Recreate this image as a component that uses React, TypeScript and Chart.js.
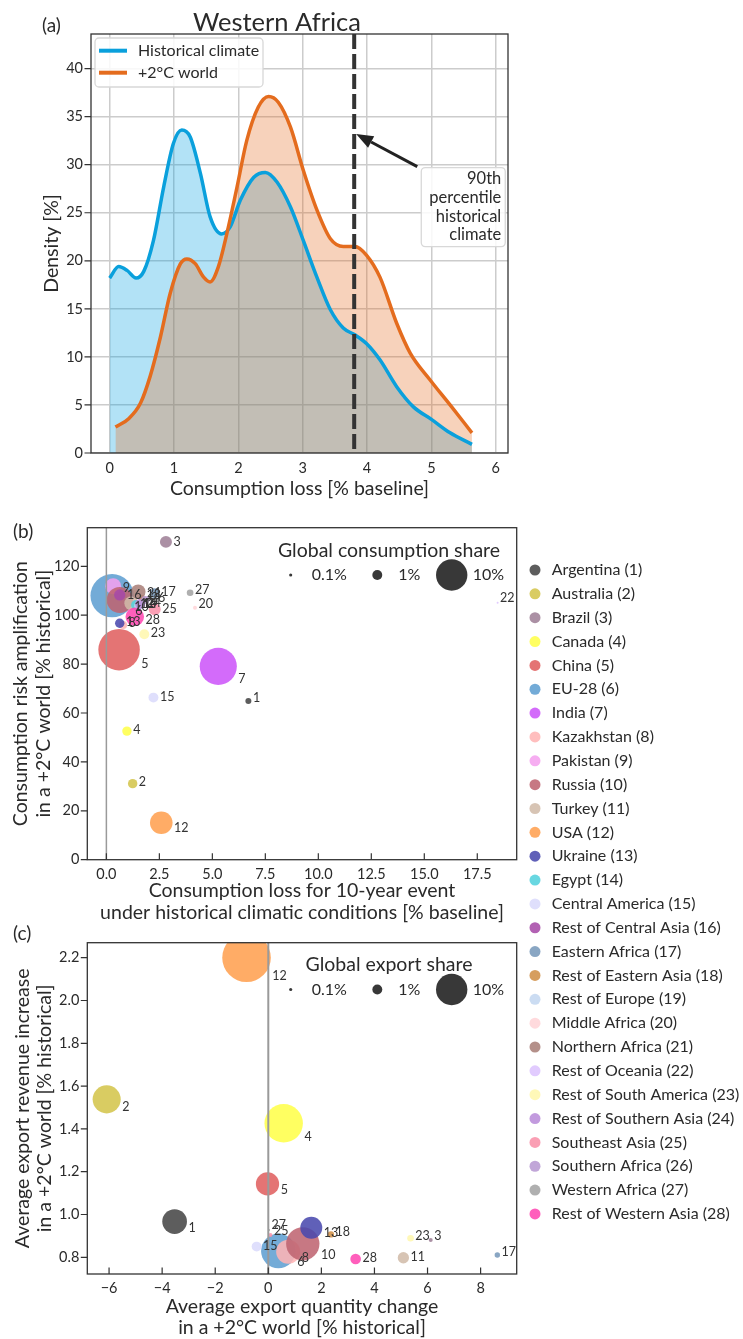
import React, { useEffect, useRef } from 'react';
import { Chart, registerables } from 'chart.js';

Chart.register(...registerables);

const PAGE_W = 743;
const PAGE_H = 1339;
const FONT = 'Lato, "Open Sans", "DejaVu Sans", sans-serif';
const INK = '#2a2a2a';
const FRAME = '#333333';
const GRID = '#cccccc';

// ---------------- Panel (a): density curves ----------------
const HIST_X = [0, 0.14, 0.27, 0.41, 0.53, 0.68, 0.84, 0.99, 1.12, 1.25, 1.41, 1.56, 1.74, 1.87, 2.03, 2.24, 2.42, 2.6, 2.81, 3.01, 3.22, 3.43, 3.63, 3.81, 3.99, 4.2, 4.46, 4.72, 5.0, 5.29, 5.63];
const HIST_Y = [18.2, 19.4, 19.0, 18.2, 18.9, 22.1, 27.7, 32.2, 33.6, 32.9, 29.1, 24.6, 22.8, 23.5, 26.3, 28.7, 29.2, 28.2, 25.6, 22.1, 18.3, 14.9, 13.0, 12.3, 11.4, 9.7, 6.9, 4.8, 3.5, 2.1, 0.9];
const WARM_X = [0.09, 0.3, 0.48, 0.63, 0.79, 0.94, 1.1, 1.2, 1.33, 1.46, 1.56, 1.69, 1.82, 1.98, 2.13, 2.31, 2.47, 2.62, 2.81, 3.01, 3.22, 3.43, 3.63, 3.81, 3.99, 4.2, 4.46, 4.67, 4.98, 5.29, 5.63];
const WARM_Y = [2.7, 3.6, 5.2, 8.0, 12.1, 16.6, 19.7, 20.2, 19.7, 18.3, 17.8, 19.4, 22.8, 27.7, 32.5, 36.0, 37.1, 36.5, 33.9, 29.4, 25.3, 22.3, 21.5, 21.5, 20.6, 18.3, 13.5, 10.4, 7.6, 5.0, 2.1];
const A_SERIES = ['Historical climate', '+2°C world'];
const A_COLORS = ['#0aa0dc', '#e46c1e'];
const A_FILLS = ['rgba(0,160,224,0.3)', 'rgba(229,107,30,0.3)'];
const A_X_TICKS = [0, 1, 2, 3, 4, 5, 6];
const A_X_TICK_LABELS = ['0', '1', '2', '3', '4', '5', '6'];
const A_Y_TICKS = [0, 5, 10, 15, 20, 25, 30, 35, 40];
const A_Y_TICK_LABELS = ['0', '5', '10', '15', '20', '25', '30', '35', '40'];
const PERCENTILE_90 = 3.8;
const ARROW_TIP = [3.83, 33.2];
const ARROW_TAIL = [4.78, 29.8];
const NOTE_LINES = ['90th', 'percentile', 'historical', 'climate'];

// ---------------- Regions ----------------
const REGIONS = ['Argentina', 'Australia', 'Brazil', 'Canada', 'China', 'EU-28', 'India', 'Kazakhstan', 'Pakistan', 'Russia', 'Turkey', 'USA', 'Ukraine', 'Egypt', 'Central America', 'Rest of Central Asia', 'Eastern Africa', 'Rest of Eastern Asia', 'Rest of Europe', 'Middle Africa', 'Northern Africa', 'Rest of Oceania', 'Rest of South America', 'Rest of Southern Asia', 'Southeast Asia', 'Southern Africa', 'Western Africa', 'Rest of Western Asia'];
const REGION_COLORS = ['#454545', '#d3c44b', '#9e7f96', '#ffff4a', '#e05f5f', '#5e9fd1', '#cc55f9', '#ffb4b4', '#f5a1ef', '#bf6470', '#d1bba9', '#ffa04f', '#4848ad', '#52d1dd', '#dadafb', '#a74aa8', '#7799ba', '#d09047', '#c3d7f0', '#ffd5d8', '#a97f79', '#dcc3fe', '#fff7ae', '#b98bd9', '#f991a9', '#b899d2', '#a3a3a3', '#ff47b2'];

// ---------------- Panel (b) ----------------
const B_LOSS = [6.70, 1.24, 2.81, 0.97, 0.60, 0.27, 5.28, 0.79, 0.32, 0.63, 1.18, 2.59, 0.63, 1.40, 2.22, 0.63, 2.28, 1.68, 1.50, 4.18, 1.50, 18.46, 1.79, 1.59, 2.28, 1.83, 3.95, 1.34];
const B_AMPLIFICATION = [64.9, 31.1, 130.0, 52.6, 85.9, 108.0, 79.1, 96.0, 111.9, 106.2, 104.9, 15.1, 96.7, 104.2, 66.3, 108.3, 109.0, 107.0, 103.8, 103.1, 109.6, 105.1, 92.2, 104.6, 102.4, 106.2, 109.2, 99.4];
const B_CONSUMPTION_SHARE = [0.37, 0.9, 1.46, 0.9, 17.5, 19.0, 14.0, 0.65, 2.6, 6.9, 2.0, 5.2, 0.9, 1.0, 1.0, 1.3, 1.0, 0.37, 0.65, 0.16, 2.2, 0.04, 1.0, 1.0, 1.46, 0.65, 0.45, 3.5];
const B_X_TICKS = [0, 2.5, 5, 7.5, 10, 12.5, 15, 17.5];
const B_X_TICK_LABELS = ['0.0', '2.5', '5.0', '7.5', '10.0', '12.5', '15.0', '17.5'];
const B_Y_TICKS = [0, 20, 40, 60, 80, 100, 120];
const B_Y_TICK_LABELS = ['0', '20', '40', '60', '80', '100', '120'];

// ---------------- Panel (c) ----------------
const C_QUANTITY = [-3.53, -6.09, 6.12, 0.58, -0.03, 0.38, null, 0.75, null, 1.30, 5.09, -0.82, 1.62, null, -0.44, null, 8.63, 2.36, null, null, null, null, 5.36, null, 0.08, null, 0.03, 3.29];
const C_REVENUE = [0.967, 1.538, 0.881, 1.426, 1.143, 0.83, null, 0.826, null, 0.863, 0.798, 2.20, 0.938, null, 0.85, null, 0.811, 0.907, null, null, null, null, 0.889, null, 0.904, null, 0.928, 0.792];
const C_EXPORT_SHARE = [6.2, 8.0, 0.16, 15, 5.5, 12.2, null, 5.9, null, 11.3, 1.3, 24, 4.9, null, 1.0, null, 0.3, 0.4, null, null, null, null, 0.45, null, 0.16, null, 0.04, 1.15];
const C_X_TICKS = [-6, -4, -2, 0, 2, 4, 6, 8];
const C_X_TICK_LABELS = ['−6', '−4', '−2', '0', '2', '4', '6', '8'];
const C_Y_TICKS = [0.8, 1.0, 1.2, 1.4, 1.6, 1.8, 2.0, 2.2];
const C_Y_TICK_LABELS = ['0.8', '1.0', '1.2', '1.4', '1.6', '1.8', '2.0', '2.2'];

const SHARE_LEGEND = [0.1, 1, 10];
const SHARE_LEGEND_LABELS = ['0.1%', '1%', '10%'];

// ---------------- layout / style ----------------
const FRAME_A = { left: 91, right: 508, top: 34, bottom: 453 };
const FRAME_B = { left: 87.3, right: 516.7, top: 527.7, bottom: 859.7 };
const FRAME_C = { left: 87.3, right: 516.7, top: 942.7, bottom: 1274 };
const X_AXIS_H = 40;
const RADIUS_PER_SQRT_PCT = 4.96;
const BUBBLE_ALPHA = 0.87;
const TICK_SIZE = 14.5;
const LABEL_SIZE = 19.5;

const bubbleRadius = (share) => RADIUS_PER_SQRT_PCT * Math.sqrt(share);

function withAlpha(hex, a) {
  const n = parseInt(hex.slice(1), 16);
  return `rgba(${(n >> 16) & 255},${(n >> 8) & 255},${n & 255},${a})`;
}

function drawText(ctx, str, x, y, size, opts: any = {}) {
  ctx.save();
  ctx.font = `${size}px ${FONT}`;
  ctx.fillStyle = opts.color || INK;
  ctx.textAlign = opts.align || 'left';
  ctx.textBaseline = opts.baseline || 'middle';
  if (opts.rotate) {
    ctx.translate(x, y);
    ctx.rotate(opts.rotate);
    ctx.fillText(str, 0, 0);
  } else {
    ctx.fillText(str, x, y);
  }
  ctx.restore();
}

function roundBox(ctx, x, y, w, h, r) {
  ctx.save();
  ctx.beginPath();
  ctx.roundRect(x, y, w, h, r);
  ctx.fillStyle = 'rgba(255,255,255,0.85)';
  ctx.fill();
  ctx.strokeStyle = '#d8d8d8';
  ctx.lineWidth = 1.3;
  ctx.stroke();
  ctx.restore();
}

function drawFrameAndTicks(chart, xTicks, yTicks, drawXTicks) {
  const { ctx, chartArea: a, scales } = chart;
  ctx.save();
  ctx.strokeStyle = FRAME;
  ctx.lineWidth = 1.3;
  ctx.strokeRect(a.left, a.top, a.right - a.left, a.bottom - a.top);
  ctx.lineWidth = 1.2;
  ctx.beginPath();
  if (drawXTicks) {
    xTicks.forEach((v) => {
      const px = scales.x.getPixelForValue(v);
      ctx.moveTo(px, a.bottom);
      ctx.lineTo(px, a.bottom - 6.5);
    });
  }
  yTicks.forEach((v) => {
    const py = scales.y.getPixelForValue(v);
    ctx.moveTo(a.left, py);
    ctx.lineTo(a.left - 6.5, py);
  });
  ctx.stroke();
  ctx.restore();
}

function axis(min, max, values, labels, isX, frame, padding, grid) {
  return {
    type: 'linear',
    min,
    max,
    afterBuildTicks: (s) => {
      s.ticks = values.map((v) => ({ value: v }));
    },
    afterFit: (s) => {
      if (isX) s.height = X_AXIS_H;
      else s.width = frame.left;
    },
    ticks: {
      autoSkip: false,
      maxRotation: 0,
      minRotation: 0,
      padding,
      color: INK,
      font: { family: FONT, size: TICK_SIZE },
      callback: (_v, i) => labels[i],
    },
    grid: { display: grid, color: GRID, lineWidth: 1.5, drawTicks: false },
    border: { display: false },
  };
}

function layoutFor(frame) {
  return {
    padding: {
      left: 0,
      top: frame.top,
      right: PAGE_W - frame.right,
      bottom: PAGE_H - frame.bottom - X_AXIS_H,
    },
  };
}

function drawSizeLegend(ctx, title, titleBaseline, rowY) {
  drawText(ctx, title, 389, titleBaseline, 19.5, { align: 'center', baseline: 'alphabetic' });
  const markX = [290.7, 377.3, 451.7];
  const textX = [311.7, 398.3, 472.7];
  SHARE_LEGEND.forEach((s, i) => {
    ctx.save();
    ctx.beginPath();
    ctx.arc(markX[i], rowY, bubbleRadius(s), 0, Math.PI * 2);
    ctx.fillStyle = withAlpha('#1a1a1a', BUBBLE_ALPHA);
    ctx.fill();
    ctx.restore();
    drawText(ctx, SHARE_LEGEND_LABELS[i], textX[i], rowY, 16);
  });
}

function drawBubbleLabels(chart, ids, zeroWidth) {
  const { ctx, chartArea: a, scales } = chart;
  const zx = scales.x.getPixelForValue(0);
  ctx.save();
  ctx.strokeStyle = '#9a9a9a';
  ctx.lineWidth = zeroWidth;
  ctx.beginPath();
  ctx.moveTo(zx, a.top);
  ctx.lineTo(zx, a.bottom);
  ctx.stroke();
  ctx.restore();
  const meta = chart.getDatasetMeta(0);
  meta.data.forEach((el, i) => {
    const r = el.options.radius;
    drawText(ctx, String(ids[i]), el.x + r + 1.5, el.y + r - 6, 12.5, { color: '#333' });
  });
}

function configA() {
  const panelA = {
    id: 'panelA',
    afterDatasetsDraw(chart) {
      const { ctx, chartArea: a, scales } = chart;
      const px = scales.x.getPixelForValue(PERCENTILE_90);
      ctx.save();
      ctx.strokeStyle = '#333';
      ctx.lineWidth = 4;
      ctx.setLineDash([15, 5]);
      ctx.beginPath();
      ctx.moveTo(px, a.top);
      ctx.lineTo(px, a.bottom);
      ctx.stroke();
      ctx.restore();
    },
    afterDraw(chart) {
      const { ctx, chartArea: a, scales } = chart;
      drawFrameAndTicks(chart, A_X_TICKS, A_Y_TICKS, false);
      // legend
      roundBox(ctx, 95, 38, 168, 49, 4);
      A_SERIES.forEach((name, i) => {
        const y = 50.7 + i * 22;
        ctx.save();
        ctx.strokeStyle = A_COLORS[i];
        ctx.lineWidth = 4;
        ctx.beginPath();
        ctx.moveTo(99, y);
        ctx.lineTo(127, y);
        ctx.stroke();
        ctx.restore();
        drawText(ctx, name, 138, y, 16);
      });
      // annotation
      const tx = scales.x.getPixelForValue(ARROW_TIP[0]);
      const ty = scales.y.getPixelForValue(ARROW_TIP[1]);
      const sx = scales.x.getPixelForValue(ARROW_TAIL[0]);
      const sy = scales.y.getPixelForValue(ARROW_TAIL[1]);
      const ang = Math.atan2(ty - sy, tx - sx);
      const headL = 17;
      const headW = 6.5;
      const bx = tx - headL * Math.cos(ang);
      const by = ty - headL * Math.sin(ang);
      ctx.save();
      ctx.strokeStyle = '#222';
      ctx.fillStyle = '#222';
      ctx.lineWidth = 3;
      ctx.beginPath();
      ctx.moveTo(sx, sy);
      ctx.lineTo(bx, by);
      ctx.stroke();
      ctx.beginPath();
      ctx.moveTo(tx, ty);
      ctx.lineTo(bx + headW * Math.sin(ang), by - headW * Math.cos(ang));
      ctx.lineTo(bx - headW * Math.sin(ang), by + headW * Math.cos(ang));
      ctx.closePath();
      ctx.fill();
      ctx.restore();
      roundBox(ctx, sx + 4, sy + 1, 84, 79, 4);
      NOTE_LINES.forEach((l, i) => {
        drawText(ctx, l, sx + 84, sy + 12 + i * 18.8, 16.5, { align: 'right' });
      });
      // titles
      drawText(ctx, 'Western Africa', 277, 30.7, 25.5, { align: 'center', baseline: 'alphabetic' });
      drawText(ctx, '(a)', 42, 25.5, 19);
      drawText(ctx, 'Consumption loss [% baseline]', (a.left + a.right) / 2, 488.5, LABEL_SIZE, { align: 'center' });
      drawText(ctx, 'Density [%]', 51.7, (a.top + a.bottom) / 2, LABEL_SIZE, { align: 'center', rotate: -Math.PI / 2 });
    },
  };
  return {
    type: 'line',
    data: {
      datasets: [
        {
          label: A_SERIES[0],
          data: HIST_X.map((x, i) => ({ x, y: HIST_Y[i] })),
          borderColor: A_COLORS[0],
          backgroundColor: A_FILLS[0],
          fill: 'origin',
          borderWidth: 3.5,
          pointRadius: 0,
          cubicInterpolationMode: 'monotone',
          order: 2,
        },
        {
          label: A_SERIES[1],
          data: WARM_X.map((x, i) => ({ x, y: WARM_Y[i] })),
          borderColor: A_COLORS[1],
          backgroundColor: A_FILLS[1],
          fill: 'origin',
          borderWidth: 3.5,
          pointRadius: 0,
          cubicInterpolationMode: 'monotone',
          order: 1,
        },
      ],
    },
    options: {
      animation: false,
      responsive: false,
      devicePixelRatio: 1,
      layout: layoutFor(FRAME_A),
      plugins: {
        legend: { display: false },
        tooltip: { enabled: false },
        title: { display: false },
        filler: { drawTime: 'beforeDatasetsDraw' },
      },
      scales: {
        x: axis(-0.29, 6.19, A_X_TICKS, A_X_TICK_LABELS, true, FRAME_A, 6.6, true),
        y: axis(0, 43.6, A_Y_TICKS, A_Y_TICK_LABELS, false, FRAME_A, 8, true),
      },
    },
    plugins: [panelA],
  };
}

function configB() {
  const ids = REGIONS.map((_n, i) => i + 1);
  const panelB = {
    id: 'panelB',
    afterDatasetsDraw(chart) {
      drawBubbleLabels(chart, ids, 1.5);
    },
    afterDraw(chart) {
      const { ctx, chartArea: a } = chart;
      drawFrameAndTicks(chart, B_X_TICKS, B_Y_TICKS, true);
      drawSizeLegend(ctx, 'Global consumption share', 557.3, 575);
      REGIONS.forEach((name, i) => {
        const y = 570 + i * 23.85;
        ctx.save();
        ctx.beginPath();
        ctx.arc(535, y, 5.5, 0, Math.PI * 2);
        ctx.fillStyle = withAlpha(REGION_COLORS[i], BUBBLE_ALPHA);
        ctx.fill();
        ctx.restore();
        drawText(ctx, `${name} (${i + 1})`, 551.7, y, 16);
      });
      drawText(ctx, '(b)', 13, 531.7, 19);
      const cx = (a.left + a.right) / 2;
      drawText(ctx, 'Consumption loss for 10-year event', cx, 890.7, LABEL_SIZE, { align: 'center' });
      drawText(ctx, 'under historical climatic conditions [% baseline]', cx, 912.7, LABEL_SIZE, { align: 'center' });
      const cy = (a.top + a.bottom) / 2;
      drawText(ctx, 'Consumption risk amplification', 21, cy, LABEL_SIZE, { align: 'center', rotate: -Math.PI / 2 });
      drawText(ctx, 'in a +2°C world [% historical]', 43.5, cy, LABEL_SIZE, { align: 'center', rotate: -Math.PI / 2 });
    },
  };
  return {
    type: 'bubble',
    data: {
      datasets: [
        {
          data: B_LOSS.map((x, i) => ({ x, y: B_AMPLIFICATION[i], r: bubbleRadius(B_CONSUMPTION_SHARE[i]) })),
          backgroundColor: REGION_COLORS.map((c) => withAlpha(c, BUBBLE_ALPHA)),
          borderWidth: 0,
        },
      ],
    },
    options: {
      animation: false,
      responsive: false,
      devicePixelRatio: 1,
      layout: layoutFor(FRAME_B),
      plugins: { legend: { display: false }, tooltip: { enabled: false } },
      scales: {
        x: axis(-0.9, 19.36, B_X_TICKS, B_X_TICK_LABELS, true, FRAME_B, 5.6, false),
        y: axis(0, 135.8, B_Y_TICKS, B_Y_TICK_LABELS, false, FRAME_B, 8, false),
      },
    },
    plugins: [panelB],
  };
}

function configC() {
  const ids = [];
  const points = [];
  const colors = [];
  C_QUANTITY.forEach((q, i) => {
    if (q === null) return;
    ids.push(i + 1);
    points.push({ x: q, y: C_REVENUE[i], r: bubbleRadius(C_EXPORT_SHARE[i]) });
    colors.push(withAlpha(REGION_COLORS[i], BUBBLE_ALPHA));
  });
  const panelC = {
    id: 'panelC',
    afterDatasetsDraw(chart) {
      drawBubbleLabels(chart, ids, 2);
    },
    afterDraw(chart) {
      const { ctx, chartArea: a } = chart;
      drawFrameAndTicks(chart, C_X_TICKS, C_Y_TICKS, true);
      drawSizeLegend(ctx, 'Global export share', 971, 989.5);
      drawText(ctx, '(c)', 13, 934, 19);
      const cx = (a.left + a.right) / 2;
      drawText(ctx, 'Average export quantity change', cx, 1306.7, LABEL_SIZE, { align: 'center' });
      drawText(ctx, 'in a +2°C world [% historical]', cx, 1327.3, LABEL_SIZE, { align: 'center' });
      const cy = (a.top + a.bottom) / 2;
      drawText(ctx, 'Average export revenue increase', 23, cy, LABEL_SIZE, { align: 'center', rotate: -Math.PI / 2 });
      drawText(ctx, 'in a +2°C world [% historical]', 45, cy, LABEL_SIZE, { align: 'center', rotate: -Math.PI / 2 });
    },
  };
  return {
    type: 'bubble',
    data: { datasets: [{ data: points, backgroundColor: colors, borderWidth: 0 }] },
    options: {
      animation: false,
      responsive: false,
      devicePixelRatio: 1,
      layout: layoutFor(FRAME_C),
      plugins: { legend: { display: false }, tooltip: { enabled: false } },
      scales: {
        x: axis(-6.82, 9.36, C_X_TICKS, C_X_TICK_LABELS, true, FRAME_C, 5.6, false),
        y: axis(0.722, 2.27, C_Y_TICKS, C_Y_TICK_LABELS, false, FRAME_C, 8, false),
      },
    },
    plugins: [panelC],
  };
}

export default function App() {
  const aRef = useRef(null);
  const bRef = useRef(null);
  const cRef = useRef(null);
  useEffect(() => {
    const charts = [
      new Chart(aRef.current, configA() as any),
      new Chart(bRef.current, configB() as any),
      new Chart(cRef.current, configC() as any),
    ];
    return () => charts.forEach((c) => c.destroy());
  }, []);
  const cs: any = { position: 'absolute', left: 0, top: 0 };
  return (
    <div style={{ position: 'absolute', left: 0, top: 0, width: PAGE_W, height: PAGE_H, background: '#fff', overflow: 'hidden' }}>
      <canvas ref={aRef} width={PAGE_W} height={PAGE_H} style={cs} />
      <canvas ref={bRef} width={PAGE_W} height={PAGE_H} style={cs} />
      <canvas ref={cRef} width={PAGE_W} height={PAGE_H} style={cs} />
    </div>
  );
}
